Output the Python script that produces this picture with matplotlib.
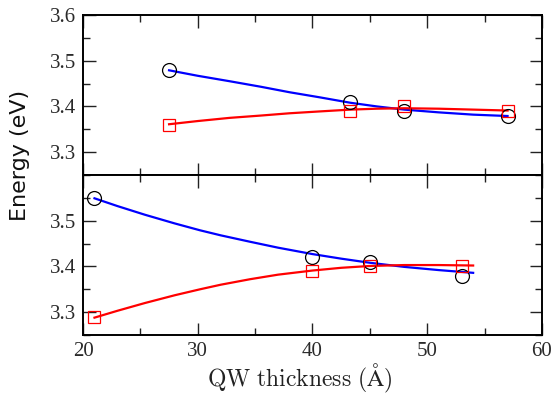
import matplotlib
matplotlib.use("Agg")
import matplotlib.pyplot as plt
from matplotlib.ticker import MultipleLocator, FixedLocator, FixedFormatter

plt.rcParams['mathtext.fontset'] = 'cm'

# measured points, upper panel
top_x = [27.5, 43.3, 48.0, 57.0]
top_circ = [3.48, 3.41, 3.39, 3.38]
top_sq = [3.36, 3.39, 3.40, 3.39]

# fitted curves, upper panel
top_fit_x = [27.5, 30.0, 32.8, 35.5, 38.0, 40.6, 43.3, 45.6, 48.0, 51.0, 54.0, 57.0]
top_fit_blue = [3.479, 3.467, 3.455, 3.443, 3.431, 3.420, 3.408, 3.400, 3.393, 3.387, 3.382, 3.379]
top_fit_red = [3.361, 3.368, 3.375, 3.380, 3.385, 3.389, 3.393, 3.395, 3.396, 3.395, 3.393, 3.391]

# measured points, lower panel
bot_x = [21.0, 40.0, 45.0, 53.0]
bot_circ = [3.55, 3.42, 3.41, 3.38]
bot_sq = [3.29, 3.39, 3.40, 3.40]

# fitted curves, lower panel
bot_fit_x = [21.0, 23.0, 25.4, 28.0, 30.2, 32.0, 34.55, 37.0, 40.0, 42.5, 45.0, 48.0, 51.0, 54.0]
bot_fit_blue = [3.549, 3.532, 3.513, 3.494, 3.479, 3.468, 3.454, 3.441, 3.427, 3.417, 3.408, 3.399, 3.392, 3.386]
bot_fit_red = [3.288, 3.303, 3.320, 3.337, 3.350, 3.360, 3.372, 3.382, 3.391, 3.397, 3.401, 3.403, 3.403, 3.402]

top_ticks = [3.3, 3.4, 3.5, 3.6]
top_labels = ['3.3', '3.4', '3.5', '3.6']
bot_ticks = [3.3, 3.4, 3.5]
bot_labels = ['3.3', '3.4', '3.5']
x_ticks = [20, 30, 40, 50, 60]

fig = plt.figure(figsize=(5.56, 4.03), dpi=100)
ax1 = fig.add_axes([0.1493, 0.5658, 0.8255, 0.3970])
ax2 = fig.add_axes([0.1493, 0.1687, 0.8255, 0.3971])

tickfont = {'family': 'Liberation Serif', 'size': 15}


def panel(ax, fx, fb, fr, px, pc, ps, yt, yl):
    ax.plot(fx, fb, color='blue', lw=1.6, zorder=2)
    ax.plot(fx, fr, color='red', lw=1.6, zorder=2)
    ax.plot(px, pc, 'o', ms=10, mfc='none', mec='black', mew=0.9, zorder=3)
    ax.plot(px, ps, 's', ms=9, mfc='none', mec='red', mew=0.9, zorder=3)
    ax.set_xlim(20, 60)
    ax.set_ylim(3.25, 3.6)
    ax.xaxis.set_major_locator(FixedLocator(x_ticks))
    ax.xaxis.set_minor_locator(MultipleLocator(5))
    ax.yaxis.set_major_locator(FixedLocator(yt))
    ax.yaxis.set_major_formatter(FixedFormatter(yl))
    ax.yaxis.set_minor_locator(MultipleLocator(0.05))
    ax.tick_params(which='both', direction='in', top=True, right=True, width=1.0, color='#222222')
    ax.tick_params(which='major', length=9)
    ax.tick_params(which='minor', length=5)
    ax.tick_params(labelcolor='#2a2a2a', pad=5)
    for lab in ax.get_yticklabels() + ax.get_xticklabels():
        lab.set_fontfamily(tickfont['family'])
        lab.set_fontsize(tickfont['size'])
    for s in ax.spines.values():
        s.set_linewidth(1.4)


panel(ax1, top_fit_x, top_fit_blue, top_fit_red, top_x, top_circ, top_sq, top_ticks, top_labels)
panel(ax2, bot_fit_x, bot_fit_blue, bot_fit_red, bot_x, bot_circ, bot_sq, bot_ticks, bot_labels)
ax1.tick_params(labelbottom=False)
ax2.set_xticklabels([str(t) for t in x_ticks])
for lab in ax2.get_xticklabels():
    lab.set_fontfamily('Liberation Serif')
    lab.set_fontsize(15)

ax2.set_xlabel(r'$\mathrm{QW\ thickness\ (\AA)}$', fontsize=17, color='#222222')
ax2.xaxis.set_label_coords(0.473, -0.165)
fig.text(0.036, 0.615, 'Energy (eV)', rotation=90, ha='center', va='center',
         fontsize=16, family='DejaVu Sans', color='#111111')

fig.savefig('out.png', dpi=100)
